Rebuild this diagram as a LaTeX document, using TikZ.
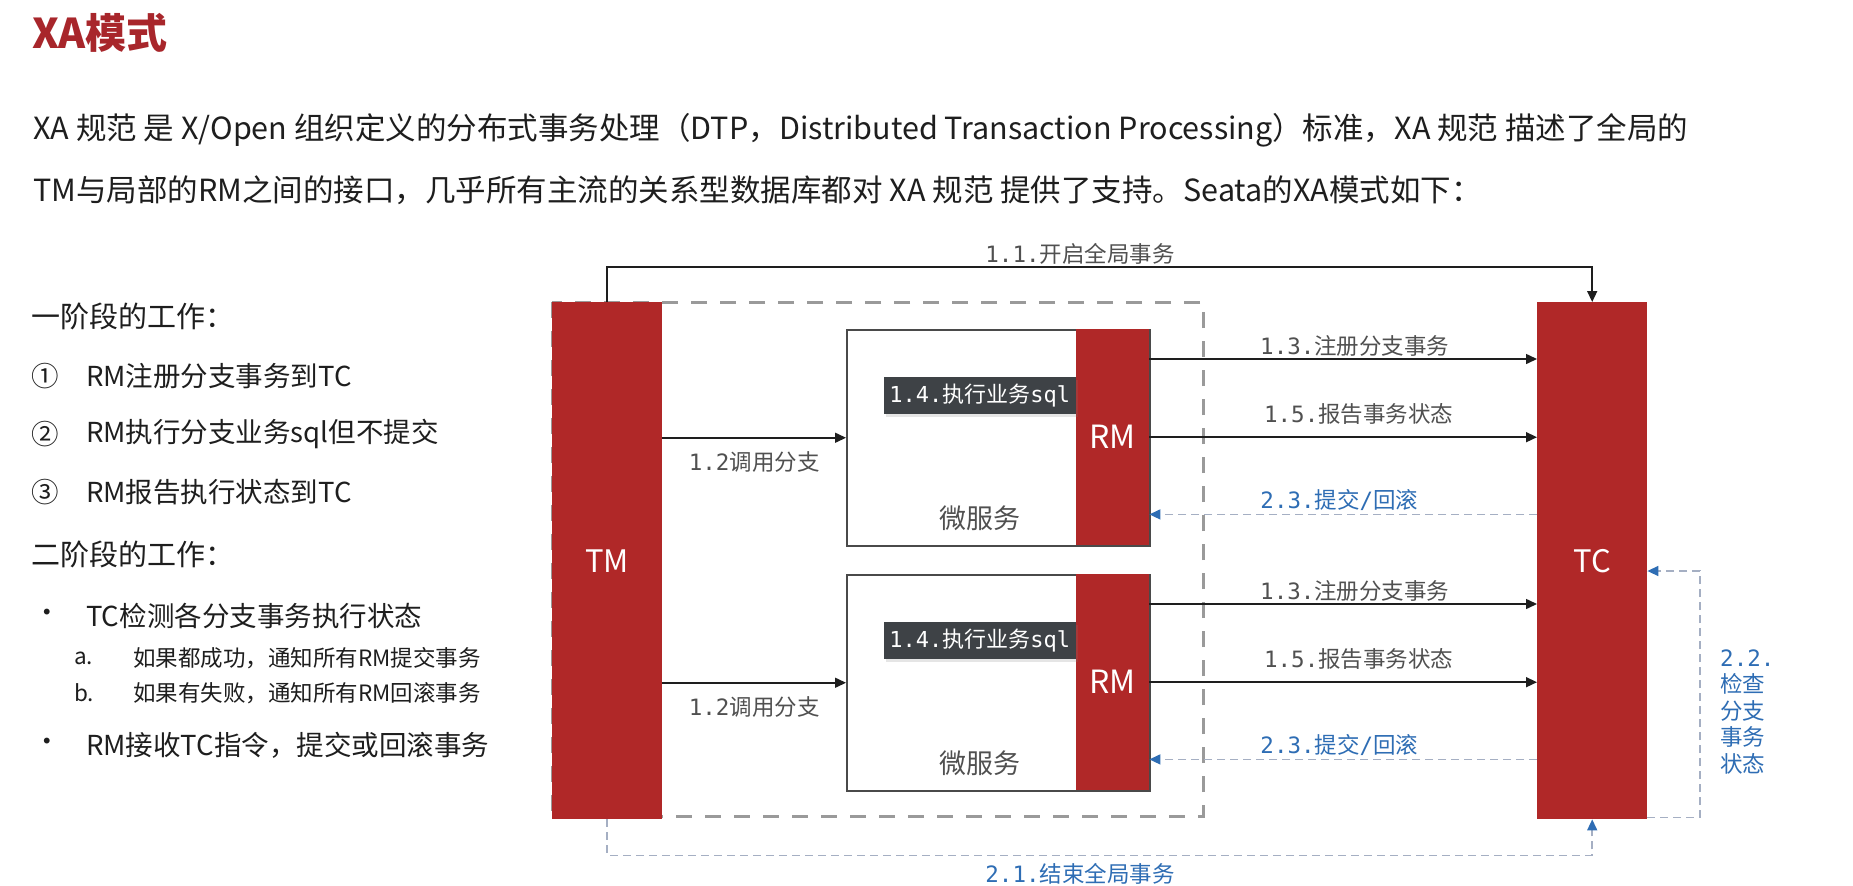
\documentclass[tikz,border=0pt]{standalone}
\usepackage{fontspec}
\setmainfont{Noto Sans CJK SC}
\newfontfamily\monofont{DejaVu Sans Mono}
\usetikzlibrary{arrows.meta,positioning,calc,shadows}
\definecolor{ink}{HTML}{1E1E1E}
\definecolor{ink2}{HTML}{505050}
\definecolor{barred}{HTML}{B02828}
\definecolor{titlered}{HTML}{A8262B}
\definecolor{boxline}{HTML}{4A4A4A}
\definecolor{sqlfill}{HTML}{3E4246}
\definecolor{dashgray}{HTML}{9A9A9A}
\definecolor{dashblue}{HTML}{A5AFC3}
\definecolor{tipblue}{HTML}{2E6DB4}
\tikzset{
  every node/.style={inner sep=0pt, text=ink},
  bigbar/.style={fill=barred, text=white, anchor=north west, minimum width=110pt, minimum height=517pt, font=\fontsize{31}{33}\selectfont},
  svcbox/.style={draw=boxline, line width=1.5pt, fill=white, anchor=north west, minimum width=303pt, minimum height=216pt},
  rmbar/.style={fill=barred, text=white, anchor=north west, minimum width=73pt, minimum height=216pt, font=\fontsize{32}{34}\selectfont},
  sqlbox/.style={fill=sqlfill, text=white, anchor=north east, minimum width=192pt, minimum height=37pt, font=\fontsize{22}{24}\selectfont, drop shadow={opacity=0.2, shadow xshift=2pt, shadow yshift=-3pt}},
  lbl/.style={font=\fontsize{22.5}{26.5}\selectfont, text=ink2},
  bluelbl/.style={lbl, text=tipblue},
  arr/.style={-{Triangle[length=11pt, width=10pt]}, draw=ink, line width=1.5pt},
  back/.style={-{Triangle[length=11pt, width=10pt, color=tipblue]}, draw=dashblue, line width=1.5pt, dash pattern=on 8pt off 5pt},
  dashbox/.style={draw=dashgray, line width=3pt, dash pattern=on 16pt off 13pt},
  title/.style={anchor=west, font=\fontsize{41}{44}\selectfont\bfseries, text=titlered},
  para/.style={anchor=west, font=\fontsize{30.5}{36}\selectfont},
  head/.style={anchor=west, font=\fontsize{29}{32}\selectfont},
  item/.style={anchor=west, font=\fontsize{27.5}{30}\selectfont},
  subitem/.style={anchor=west, font=\fontsize{22.5}{26}\selectfont},
}

\begin{document}
\begin{tikzpicture}[x=1pt, y=-1pt]
  \useasboundingbox[fill=white] (0,0) rectangle (1853,886);

  % title and intro text
  \node[title] (title) at (32,33) {XA模式};
  \node[para] (para1) at (33,130) {XA 规范 是 X/Open 组织定义的分布式事务处理（DTP，Distributed Transaction Processing）标准，XA 规范 描述了全局的};
  \node[para] (para2) at (33,190) {TM与局部的RM之间的接口，几乎所有主流的关系型数据库都对 XA 规范 提供了支持。Seata的XA模式如下：};

  % --- left column: the two phases ------------------------------------------
  \node[head] (phase1) at (31,316) {一阶段的工作：};
  \foreach \i/\y/\m/\t in {1/376/①/RM注册分支事务到TC, 2/434/②/RM执行分支业务sql但不提交, 3/492/③/RM报告执行状态到TC} {
    \node[item] (num\i) at (31,\y) {\m};
    \node[item] (step\i) at (86,\y) {\t};
  }
  \node[head] (phase2) at (31,554) {二阶段的工作：};
  \node[item] (dot1) at (33,616) {•};
  \node[item] (chk1) at (86,616) {TC检测各分支事务执行状态};
  \node[subitem] (sa) at (74,658) {a.};
  \node[subitem] (sat) at (133,658) {如果都成功，通知所有RM提交事务};
  \node[subitem] (sb) at (74,693) {b.};
  \node[subitem] (sbt) at (133,693) {如果有失败，通知所有RM回滚事务};
  \node[item] (dot2) at (33,745) {•};
  \node[item] (recv) at (86,745) {RM接收TC指令，提交或回滚事务};

  % --- diagram ----------------------------------------------------------------
  \draw[dashbox] (552,302) rectangle (1203,816);
  \node[bigbar] (TM) at (552,302) {TM};
  \node[bigbar] (TC) at (1537,302) {TC};

  \foreach \i/\y in {1/329, 2/574} {
    \node[svcbox] (svc\i) at (846,\y) {};
    \node[rmbar] (rm\i) at (1076,\y) {RM};
    \node[sqlbox] (sql\i) at ($(rm\i.north west)+(0,48)$) {{\monofont 1.4.}执行业务{\monofont sql}};
    \node[lbl, font=\fontsize{27}{30}\selectfont] (ms\i) at ($(rm\i.south west)+(-96,-27)$) {微服务};
    \coordinate (reg\i) at ($(rm\i.north east)+(0,30)$);
    \coordinate (ret\i) at ($(rm\i.south east)+(0,-31)$);

    \draw[arr] (TM.east |- svc\i.west) -- node[lbl, below=13pt] {{\monofont 1.2}调用分支} (svc\i.west);
    \draw[arr] (reg\i) -- node[lbl, above=2pt, pos=0.53] {{\monofont 1.3.}注册分支事务} (reg\i -| TC.west);
    \draw[arr] (rm\i.east) -- node[lbl, above=12pt, pos=0.54] {{\monofont 1.5.}报告事务状态} (rm\i.east -| TC.west);
    \draw[back] (ret\i -| TC.west) -- node[bluelbl, above=3pt, pos=0.51] {{\monofont 2.3.}提交{\monofont /}回滚} (ret\i);
  }

  % global begin / end
  \draw[arr] (TM.north) -- ++(0,-35) -| node[lbl, above=2pt, pos=0.24] {{\monofont 1.1.}开启全局事务} (TC.north);
  \draw[back] (TM.south) -- ++(0,36) -| node[bluelbl, below=7pt, pos=0.24] {{\monofont 2.1.}结束全局事务} (TC.south);

  % check branch status
  \coordinate (chk) at (1700,571);
  \draw[back] ($(TC.south east)+(0,-2)$) -| (chk) -- (chk -| TC.east);
  \node[bluelbl, anchor=west, align=left] (chklbl) at (1720,712) {{\monofont 2.2.}\\检查\\分支\\事务\\状态};
\end{tikzpicture}
\end{document}
